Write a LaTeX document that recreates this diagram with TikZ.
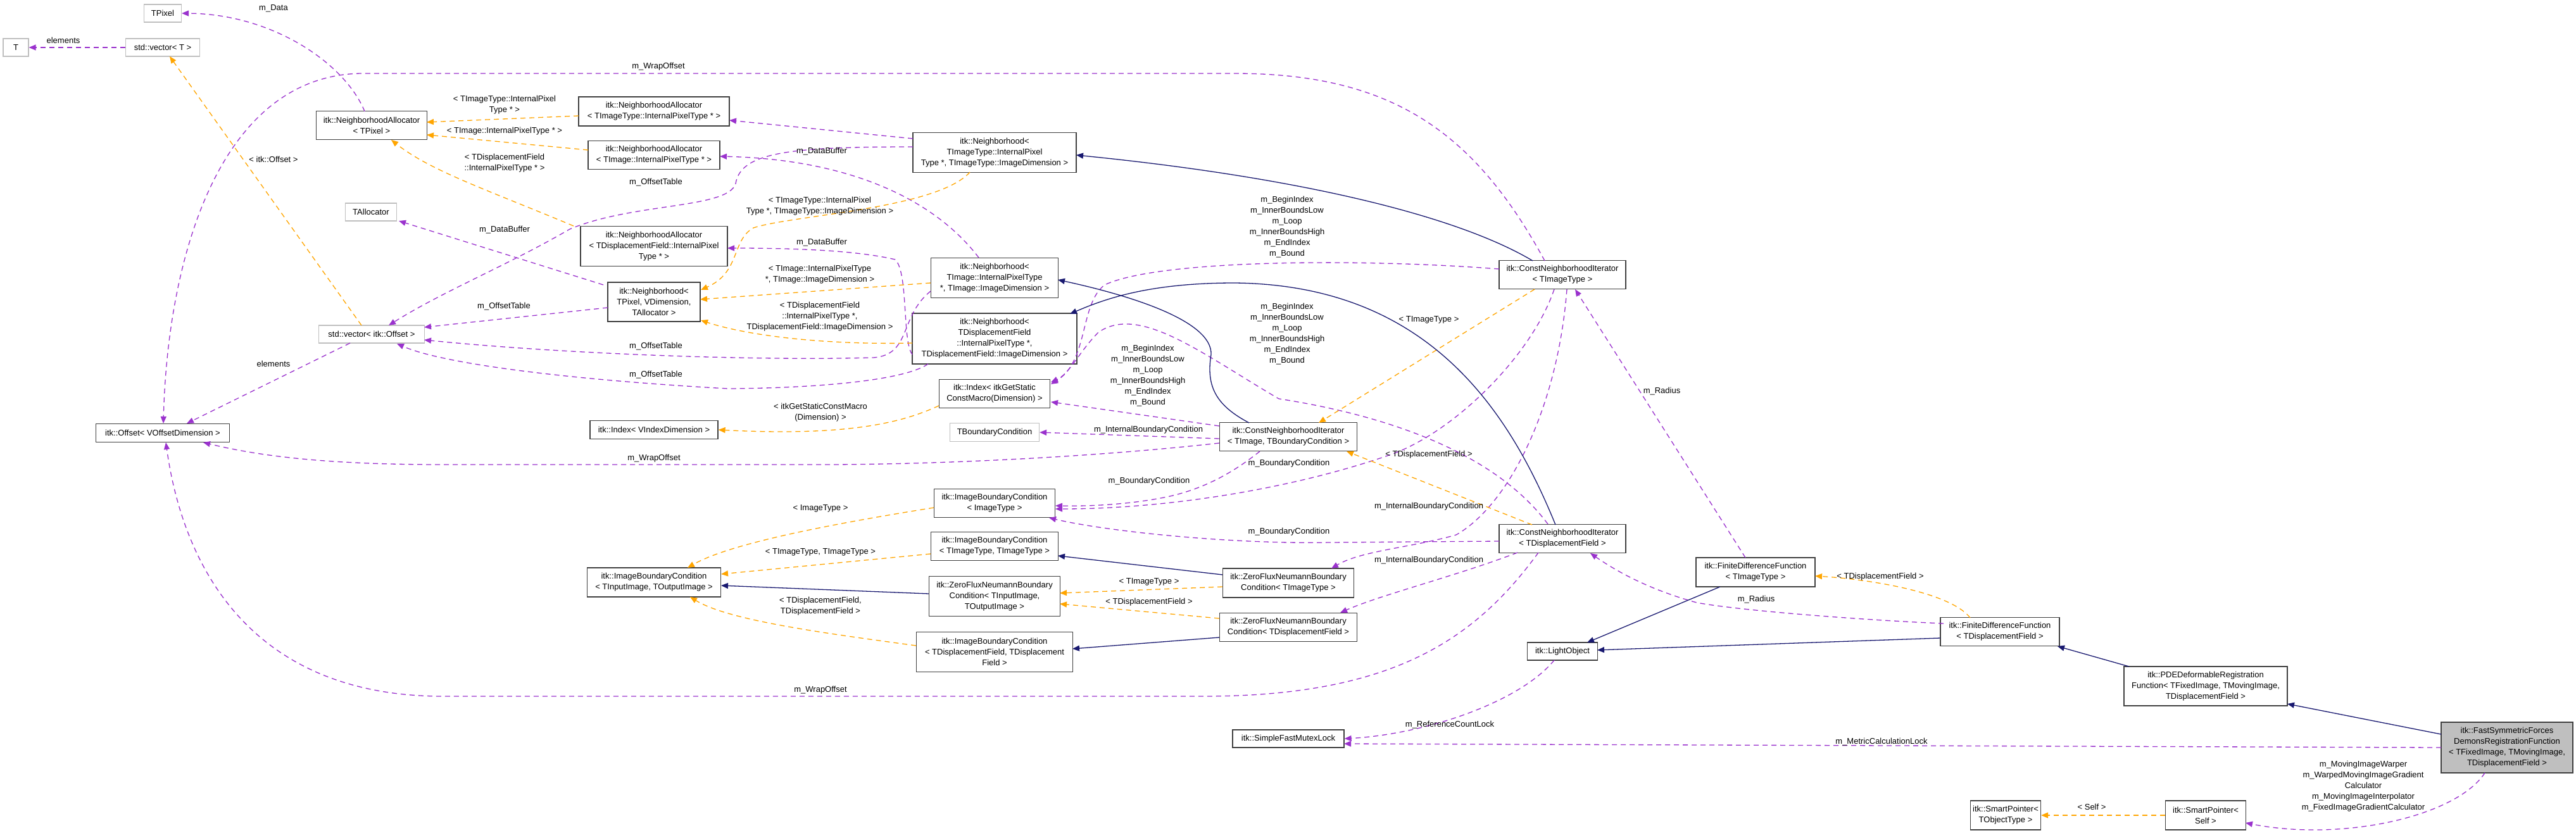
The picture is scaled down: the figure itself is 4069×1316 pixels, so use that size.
\documentclass[tikz,border=0pt]{standalone}
\usepackage{fontspec}
\setmainfont{Liberation Sans}
\usetikzlibrary{arrows.meta}
\definecolor{pur}{HTML}{9A32CD}
\definecolor{org}{HTML}{FFA500}
\definecolor{nav}{HTML}{191970}
\definecolor{gb}{HTML}{BFBFBF}
\newcommand\mybox[7]{\node[box,#6,minimum width=#4pt,minimum height=#5pt] (#1) at (#2pt,-#3pt) {#7};}
\newcommand\mylbl[4]{\node[lbl] (#1) at (#2pt,-#3pt) {#4};}
\begin{document}
\begin{tikzpicture}[x=1pt,y=1pt,
  box/.style={draw=black!75,line width=1.2pt,fill=white,align=center,inner sep=2pt,font=\fontsize{13}{17}\selectfont},
  lt/.style={draw=gb},
  lbl/.style={inner sep=0pt,align=center,font=\fontsize{13}{17}\selectfont},
  tip/.style={-{Triangle[length=11pt,width=9pt]}},
  pu/.style={tip,draw=pur,line width=1.3pt,dash pattern=on 8pt off 6pt},
  or/.style={tip,draw=org,line width=1.3pt,dash pattern=on 8pt off 6pt},
  nv/.style={tip,draw=nav,line width=1.3pt}]
\path[use as bounding box] (0,0) rectangle (4069,-1316);
% nodes
\mybox{TPixel}{257}{21}{59}{28}{lt}{TPixel}
\mybox{T}{25}{75}{40}{28}{lt}{T}
\mybox{vecT}{257}{75}{117}{28}{lt}{std::vector< T >}
\mybox{NAP}{587}{198}{175}{45}{}{itk::NeighborhoodAllocator\\< TPixel >}
\mybox{TAlloc}{586}{335}{81}{28}{lt}{TAllocator}
\mybox{vecO}{587}{528}{167}{28}{lt}{std::vector< itk::Offset >}
\mybox{Off}{257}{684}{211}{29}{}{itk::Offset< VOffsetDimension >}
\mybox{NAIT}{1033}{176}{238}{46}{}{itk::NeighborhoodAllocator\\< TImageType::InternalPixelType * >}
\mybox{NAI}{1033}{245}{208}{45}{}{itk::NeighborhoodAllocator\\< TImage::InternalPixelType * >}
\mybox{NAD}{1033}{389}{232}{63}{}{itk::NeighborhoodAllocator\\< TDisplacementField::InternalPixel\\Type * >}
\mybox{NP}{1033}{477}{146}{62}{}{itk::Neighborhood<\\TPixel, VDimension,\\TAllocator >}
\mybox{IdxV}{1033}{679}{202}{29}{}{itk::Index< VIndexDimension >}
\mybox{IBCin}{1033}{920}{211}{46}{}{itk::ImageBoundaryCondition\\< TInputImage, TOutputImage >}
\mybox{NIT}{1571}{241}{258}{63}{}{itk::Neighborhood<\\TImageType::InternalPixel\\Type *, TImageType::ImageDimension >}
\mybox{NI}{1571}{439}{201}{63}{}{itk::Neighborhood<\\TImage::InternalPixelType\\*, TImage::ImageDimension >}
\mybox{ND}{1571}{535}{260}{80}{}{itk::Neighborhood<\\TDisplacementField\\::InternalPixelType *,\\TDisplacementField::ImageDimension >}
\mybox{IdxS}{1571}{622}{175}{45}{}{itk::Index< itkGetStatic\\ConstMacro(Dimension) >}
\mybox{TBC}{1571}{683}{141}{29}{lt}{TBoundaryCondition}
\mybox{IBCI}{1571}{795}{191}{45}{}{itk::ImageBoundaryCondition\\< ImageType >}
\mybox{IBCT}{1571}{863}{201}{45}{}{itk::ImageBoundaryCondition\\< TImageType, TImageType >}
\mybox{ZFin}{1571}{942}{207}{63}{}{itk::ZeroFluxNeumannBoundary\\Condition< TInputImage,\\TOutputImage >}
\mybox{IBCD}{1571}{1030}{247}{63}{}{itk::ImageBoundaryCondition\\< TDisplacementField, TDisplacement\\Field >}
\mybox{CNI}{2035}{690}{217}{45}{}{itk::ConstNeighborhoodIterator\\< TImage, TBoundaryCondition >}
\mybox{ZFT}{2035}{921}{207}{46}{}{itk::ZeroFluxNeumannBoundary\\Condition< TImageType >}
\mybox{ZFD}{2035}{991}{217}{45}{}{itk::ZeroFluxNeumannBoundary\\Condition< TDisplacementField >}
\mybox{Lock}{2035}{1167}{176}{28}{}{itk::SimpleFastMutexLock}
\mybox{CNIT}{2468}{434}{200}{45}{}{itk::ConstNeighborhoodIterator\\< TImageType >}
\mybox{CNID}{2468}{851}{200}{45}{}{itk::ConstNeighborhoodIterator\\< TDisplacementField >}
\mybox{LO}{2468}{1029}{111}{28}{}{itk::LightObject}
\mybox{FDT}{2773}{904}{188}{46}{}{itk::FiniteDifferenceFunction\\< TImageType >}
\mybox{FDD}{3159}{998}{188}{45}{}{itk::FiniteDifferenceFunction\\< TDisplacementField >}
\mybox{PDE}{3484}{1084}{258}{62}{}{itk::PDEDeformableRegistration\\Function< TFixedImage, TMovingImage,\\TDisplacementField >}
\mybox{FS}{3960}{1181}{208}{80}{fill=gb}{itk::FastSymmetricForces\\DemonsRegistrationFunction\\< TFixedImage, TMovingImage,\\TDisplacementField >}
\mybox{SPO}{3168}{1288}{111}{46}{}{itk::SmartPointer<\\TObjectType >}
\mybox{SPS}{3484}{1288}{127}{46}{}{itk::SmartPointer<\\Self >}
% purple usage edges
\draw[pu] (vecT.west) -- (T.east);
\draw[pu] (576,-176) .. controls (545,-100) and (430,-22) .. (TPixel.east);
\draw[pu] (553,-542) -- (295,-669);
\draw[pu] (2440,-412) .. controls (2330,-210) and (2200,-116) .. (1950,-116) -- (570,-116) .. controls (350,-120) and (265,-400) .. (258,-669);
\draw[pu] (1926,-700) .. controls (1700,-725) and (1450,-734) .. (1300,-734) -- (700,-734) .. controls (500,-734) and (400,-718) .. (321,-699);
\draw[pu] (2430,-873) .. controls (2330,-1010) and (2200,-1100) .. (1900,-1100) -- (700,-1100) .. controls (400,-1100) and (290,-900) .. (262,-699);
\draw[pu] (953,-450) -- (630,-349);
\draw[pu] (960,-486) -- (670,-517);
\draw[pu] (1442,-232) .. controls (1250,-232) and (1170,-240) .. (1162,-290) .. controls (1150,-330) and (1000,-320) .. (900,-362) .. controls (800,-420) and (700,-460) .. (614,-514);
\draw[pu] (1470,-460) .. controls (1420,-500) and (1440,-560) .. (1380,-565) .. controls (1200,-570) and (900,-560) .. (670,-537);
\draw[pu] (1466,-575) .. controls (1430,-600) and (1300,-613) .. (1150,-614) .. controls (900,-600) and (700,-575) .. (627,-543);
\draw[pu] (1442,-219) -- (1152,-190);
\draw[pu] (1546,-407) .. controls (1480,-320) and (1350,-252) .. (1137,-247);
\draw[pu] (1441,-560) .. controls (1425,-540) and (1435,-430) .. (1414,-410) .. controls (1350,-395) and (1250,-392) .. (1149,-392);
\draw[pu] (2368,-425) .. controls (2150,-408) and (1830,-410) .. (1745,-450) .. controls (1705,-480) and (1720,-570) .. (1660,-607);
\draw[pu] (2445,-828) .. controls (2350,-700) and (2150,-650) .. (2020,-630) .. controls (1900,-560) and (1800,-480) .. (1735,-525) .. controls (1705,-555) and (1690,-590) .. (1660,-604);
\draw[pu] (1926,-673) -- (1660,-635);
\draw[pu] (1926,-693) -- (TBC.east);
\draw[pu] (1990,-713) .. controls (1950,-745) and (1900,-775) .. (1833,-787) .. controls (1780,-797) and (1720,-800) .. (1667,-799);
\draw[pu] (2455,-457) .. controls (2420,-560) and (2300,-680) .. (2200,-717) .. controls (2050,-770) and (1850,-804) .. (1667,-804);
\draw[pu] (2475,-457) .. controls (2460,-650) and (2380,-800) .. (2300,-845) .. controls (2230,-865) and (2150,-870) .. (2103,-898);
\draw[pu] (2368,-855) -- (2100,-857) .. controls (1950,-860) and (1750,-840) .. (1657,-818);
\draw[pu] (2397,-873) .. controls (2300,-910) and (2180,-940) .. (2117,-968);
\draw[pu] (2757,-881) -- (2488,-457);
\draw[pu] (3070,-985) .. controls (2950,-980) and (2750,-965) .. (2680,-952) .. controls (2600,-930) and (2550,-900) .. (2512,-874);
\draw[pu] (2455,-1043) .. controls (2400,-1110) and (2250,-1160) .. (Lock.east);
\draw[pu] (3856,-1181) -- (2123,-1175);
\draw[pu] (3925,-1221) .. controls (3880,-1290) and (3700,-1330) .. (3547,-1300);
% orange template edges
\draw[or] (914,-183) -- (674,-193);
\draw[or] (929,-237) -- (674,-213);
\draw[or] (906,-357) .. controls (770,-300) and (680,-270) .. (618,-221);
\draw[or] (571,-514) -- (268,-89);
\draw[or] (1532,-272) .. controls (1480,-330) and (1250,-340) .. (1190,-360) .. controls (1155,-380) and (1170,-430) .. (1107,-458);
\draw[or] (1470,-447) -- (1106,-473);
\draw[or] (1441,-542) .. controls (1300,-545) and (1180,-530) .. (1107,-506);
\draw[or] (1483,-641) .. controls (1430,-665) and (1350,-690) .. (IdxV.east);
\draw[or] (1475,-802) .. controls (1300,-830) and (1150,-860) .. (1086,-897);
\draw[or] (1470,-875) -- (1139,-907);
\draw[or] (1447,-1020) .. controls (1300,-1000) and (1150,-980) .. (1090,-943);
\draw[or] (1931,-927) -- (1674,-937);
\draw[or] (1926,-977) -- (1674,-954);
\draw[or] (2424,-457) -- (2083,-668);
\draw[or] (2420,-829) -- (2127,-713);
\draw[or] (3112,-976) .. controls (3080,-935) and (2950,-915) .. (2867,-910);
\draw[or] (SPS.west) -- (SPO.east);
% navy inheritance edges
\draw[nv] (2421,-412) .. controls (2300,-340) and (2050,-280) .. (1700,-245);
\draw[nv] (1973,-668) .. controls (1920,-640) and (1905,-610) .. (1913,-560) .. controls (1915,-510) and (1800,-470) .. (1671,-442);
\draw[nv] (2457,-829) .. controls (2380,-640) and (2250,-450) .. (1950,-447) .. controls (1820,-447) and (1750,-470) .. (1690,-496);
\draw[nv] (1931,-908) -- (1671,-878);
\draw[nv] (1926,-1007) -- (1694,-1025);
\draw[nv] (1467,-938) -- (1139,-925);
\draw[nv] (2717,-927) -- (2507,-1015);
\draw[nv] (3065,-1008) -- (2523,-1027);
\draw[nv] (3363,-1053) -- (3250,-1021);
\draw[nv] (3856,-1160) -- (3613,-1112);
% labels
\mylbl{l1}{100}{64}{elements}
\mylbl{l2}{432}{13}{m\_Data}
\mylbl{l3}{432}{575}{elements}
\mylbl{l4}{1040}{105}{m\_WrapOffset}
\mylbl{l5}{1033}{724}{m\_WrapOffset}
\mylbl{l6}{1296}{1090}{m\_WrapOffset}
\mylbl{l7}{797}{363}{m\_DataBuffer}
\mylbl{l8}{796}{484}{m\_OffsetTable}
\mylbl{l9}{1036}{288}{m\_OffsetTable}
\mylbl{l10}{1036}{547}{m\_OffsetTable}
\mylbl{l11}{1036}{592}{m\_OffsetTable}
\mylbl{l12}{1298}{239}{m\_DataBuffer}
\mylbl{l13}{1298}{383}{m\_DataBuffer}
\mylbl{l14}{2033}{359}{m\_BeginIndex\\m\_InnerBoundsLow\\m\_Loop\\m\_InnerBoundsHigh\\m\_EndIndex\\m\_Bound}
\mylbl{l15}{2033}{528}{m\_BeginIndex\\m\_InnerBoundsLow\\m\_Loop\\m\_InnerBoundsHigh\\m\_EndIndex\\m\_Bound}
\mylbl{l16}{1813}{594}{m\_BeginIndex\\m\_InnerBoundsLow\\m\_Loop\\m\_InnerBoundsHigh\\m\_EndIndex\\m\_Bound}
\mylbl{l17}{1814}{679}{m\_InternalBoundaryCondition}
\mylbl{l18}{2257}{800}{m\_InternalBoundaryCondition}
\mylbl{l19}{2257}{885}{m\_InternalBoundaryCondition}
\mylbl{l20}{1815}{760}{m\_BoundaryCondition}
\mylbl{l21}{2036}{732}{m\_BoundaryCondition}
\mylbl{l22}{2036}{840}{m\_BoundaryCondition}
\mylbl{l23}{2625}{618}{m\_Radius}
\mylbl{l24}{2774}{947}{m\_Radius}
\mylbl{l25}{2290}{1145}{m\_ReferenceCountLock}
\mylbl{l26}{2972}{1172}{m\_MetricCalculationLock}
\mylbl{l27}{3733}{1242}{m\_MovingImageWarper\\m\_WarpedMovingImageGradient\\Calculator\\m\_MovingImageInterpolator\\m\_FixedImageGradientCalculator}
\mylbl{o1}{797}{166}{< TImageType::InternalPixel\\Type * >}
\mylbl{o2}{797}{207}{< TImage::InternalPixelType * >}
\mylbl{o3}{797}{258}{< TDisplacementField\\::InternalPixelType * >}
\mylbl{o4}{432}{252}{< itk::Offset >}
\mylbl{o5}{1295}{326}{< TImageType::InternalPixel\\Type *, TImageType::ImageDimension >}
\mylbl{o6}{1295}{434}{< TImage::InternalPixelType\\*, TImage::ImageDimension >}
\mylbl{o7}{1295}{500}{< TDisplacementField\\::InternalPixelType *,\\TDisplacementField::ImageDimension >}
\mylbl{o8}{1296}{652}{< itkGetStaticConstMacro\\(Dimension) >}
\mylbl{o9}{1296}{803}{< ImageType >}
\mylbl{o10}{1296}{872}{< TImageType, TImageType >}
\mylbl{o11}{1296}{958}{< TDisplacementField,\\TDisplacementField >}
\mylbl{o12}{1815}{919}{< TImageType >}
\mylbl{o13}{1815}{951}{< TDisplacementField >}
\mylbl{o14}{2257}{505}{< TImageType >}
\mylbl{o15}{2257}{718}{< TDisplacementField >}
\mylbl{o16}{2970}{911}{< TDisplacementField >}
\mylbl{o17}{3304}{1275}{< Self >}
\end{tikzpicture}
\end{document}
